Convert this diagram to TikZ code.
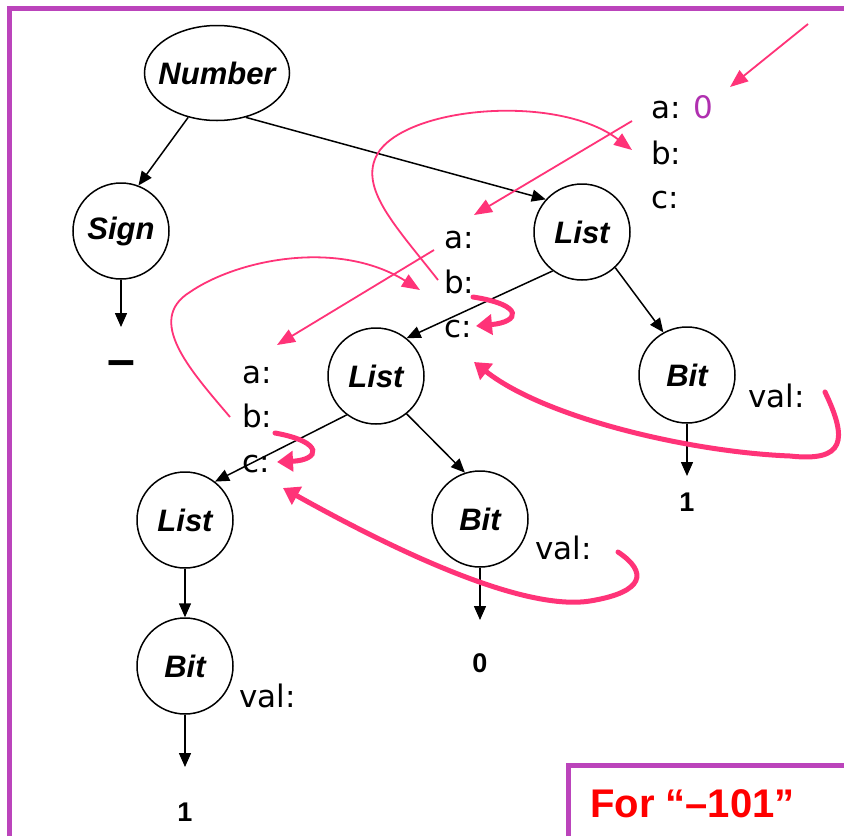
\documentclass[tikz,border=0pt]{standalone}
\usepackage{fontspec}
\setmainfont{Liberation Sans}
\newfontfamily\comic{DejaVu Sans}
\usetikzlibrary{arrows.meta,shapes.geometric}
\definecolor{pk}{RGB}{255,51,120}
\definecolor{framec}{RGB}{187,68,187}
\definecolor{zc}{RGB}{176,48,176}
\definecolor{redt}{RGB}{255,0,0}
\begin{document}
\begin{tikzpicture}[x=1pt,y=-1pt,
  tn/.style={circle,draw,line width=1.5pt,minimum size=96pt,inner sep=0pt,font=\fontsize{31}{31}\selectfont\bfseries\itshape},
  lab/.style={anchor=base west,inner sep=0pt,font=\comic\fontsize{31}{31}\selectfont},
  dig/.style={inner sep=0pt,font=\fontsize{27}{27}\selectfont\bfseries},
  edge/.style={line width=1.5pt,-{Triangle[length=14pt,width=12pt]}},
  thinp/.style={draw=pk,line width=1.8pt,-{Triangle[length=18pt,width=14pt]}},
  thickp/.style={draw=pk,line width=5pt,line cap=round,-{Triangle[length=16pt,width=20pt]}}
]
\useasboundingbox[fill=white] (0,0) rectangle (844,836);
% frames
\draw[framec,line width=5pt] (9,836) -- (9,8) -- (844,8);
\draw[framec,line width=5pt] (568,836) -- (568,765) -- (844,765);
\node[anchor=base west,inner sep=0pt,text=redt,font=\fontsize{40}{40}\selectfont\bfseries] (forlbl) at (590,817) {For “–101”};

% tree nodes
\node[ellipse,draw,line width=1.5pt,minimum width=145pt,minimum height=95pt,inner sep=0pt,
  label={[font=\fontsize{31}{31}\selectfont\bfseries\itshape]center:Number}] (num) at (217,73) {};
\node[tn] (sign) at (121,231) {Sign};
\node[tn] (lt) at (582,232) {List};
\node[tn] (lm) at (376,376) {List};
\node[tn] (lb) at (185,520) {List};
\node[tn] (br) at (687,375) {Bit};
\node[tn] (bm) at (480,519) {Bit};
\node[tn] (bb) at (185,666) {Bit};

% leaves
\node[inner sep=0pt,font=\fontsize{50}{50}\selectfont\bfseries] (minus) at (121,369) {–};
\node[dig] (one1) at (185,812) {1};
\node[dig] (zero) at (480,663) {0};
\node[dig] (one2) at (687,502) {1};

% tree edges
\draw[edge] (num.-123) -- (sign.69);
\draw[edge] (num.-57) -- (lt.138);
\draw[edge] (lt.-127) -- (lm.51);
\draw[edge] (lt.-47) -- (br.119);
\draw[edge] (lm.-127) -- (lb.52);
\draw[edge] (lm.-51) -- (bm.108);
\draw[edge] (lb) -- (bb);
\draw[edge,shorten >=42pt] (sign.south) -- (minus.center);
\draw[edge,shorten >=45pt] (bb.south) -- (one1.center);
\draw[edge,shorten >=43pt] (bm.south) -- (zero.center);
\draw[edge,shorten >=26pt] (br.south) -- (one2.center);

% attribute labels
\node[lab] (ta) at (651,118) {a: \textcolor{zc}{0}};
\node[lab] (tb) at (651,164) {b:};
\node[lab] (tc) at (651,208) {c:};
\node[lab] (ma) at (444,248) {a:};
\node[lab] (mb) at (444,293) {b:};
\node[lab] (mc) at (444,337) {c:};
\node[lab] (la) at (242,383) {a:};
\node[lab] (lbb) at (242,427) {b:};
\node[lab] (lc) at (242,472) {c:};
\node[lab] (v1) at (748,407) {val:};
\node[lab] (v2) at (535,559) {val:};
\node[lab] (v3) at (239,707) {val:};

% pink flow
\coordinate (p1s) at (808,24);  \coordinate (p1e) at (730,87);
\coordinate (p3s) at (632,121); \coordinate (p3e) at (474,215);
\coordinate (p5s) at (434,250); \coordinate (p5e) at (277,345);
\coordinate (p2s) at (438,280); \coordinate (p2e) at (632,150);
\coordinate (p4s) at (230,417); \coordinate (p4e) at (420,290);
\coordinate (p6s) at (473,297); \coordinate (p6e) at (476,326);
\coordinate (p7s) at (275,433); \coordinate (p7e) at (277,462);
\coordinate (p8s) at (825,392); \coordinate (p8e) at (474,362);
\coordinate (p9s) at (618,552); \coordinate (p9e) at (283,488);

\draw[thinp] (p1s) -- (p1e);
\draw[thinp] (p3s) -- (p3e);
\draw[thinp] (p5s) -- (p5e);
\draw[thinp] (p2s) .. controls (395,225) and (355,185) .. (380,150) .. controls (415,105) and (560,95) .. (p2e);
\draw[thinp] (p4s) .. controls (190,370) and (145,320) .. (190,292) .. controls (240,258) and (340,240) .. (p4e);
\draw[thickp] (p6s) .. controls (525,305) and (520,322) .. (p6e);
\draw[thickp] (p7s) .. controls (325,442) and (320,460) .. (p7e);
\draw[thickp] (p8s) .. controls (848,440) and (845,462) .. (790,456) .. controls (690,452) and (545,418) .. (p8e);
\draw[thickp] (p9s) .. controls (648,572) and (645,592) .. (590,601) .. controls (520,612) and (385,545) .. (p9e);
\end{tikzpicture}
\end{document}
